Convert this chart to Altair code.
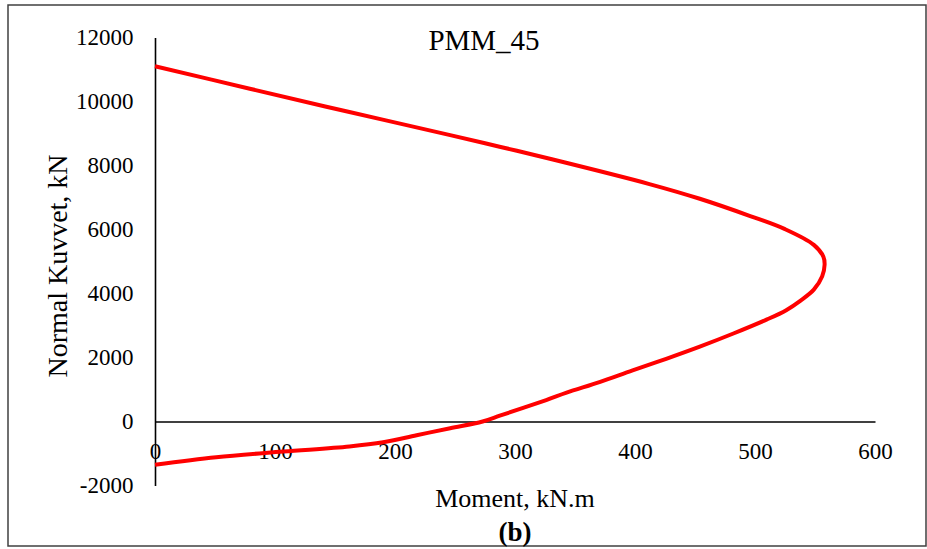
import altair as alt
import pandas as pd

# Interaction curve (PMM, 45 degrees): moment vs. normal force, traced in path order
moment = [0, 79, 162, 246, 288, 329, 412, 454, 496, 525, 549, 557, 558,
          556, 549, 538, 526, 510, 482, 454, 426, 398, 371, 343, 326, 288,
          273, 246, 218, 190, 162, 107, 51, 0]
normal = [11100, 10400, 9670, 8950, 8580, 8210, 7420, 6960, 6420, 6010, 5520, 5150, 4900,
          4540, 4120, 3780, 3480, 3190, 2750, 2340, 1960, 1600, 1240, 900, 670, 190,
          0, -210, -430, -650, -780, -940, -1115, -1350]

x_ticks = [0, 100, 200, 300, 400, 500, 600]
y_ticks = [-2000, 0, 2000, 4000, 6000, 8000, 10000, 12000]

FONT = "Liberation Serif"

df = pd.DataFrame({"M": moment, "P": normal, "idx": list(range(len(moment)))})

W, H = 720, 448

curve = alt.Chart(df).mark_line(
    color="#FF0000", strokeWidth=4, interpolate="catmull-rom"
).encode(
    x=alt.X("M:Q",
            scale=alt.Scale(domain=[0, 600], nice=False, zero=False),
            axis=alt.Axis(values=x_ticks, title=None, grid=False, ticks=False, tickSize=0,
                          offset=-64, labelPadding=37, labelBaseline="alphabetic",
                          labelExpr="'' + datum.value",
                          labelFont=FONT, labelFontSize=23, labelColor="#000000",
                          domainColor="#000000", domainWidth=1.6, labelFlush=False)),
    y=alt.Y("P:Q",
            scale=alt.Scale(domain=[-2000, 12000], nice=False, zero=False),
            axis=alt.Axis(values=y_ticks, title=None, grid=False, ticks=False, tickSize=0,
                          labelPadding=22, labelExpr="'' + datum.value",
                          labelFont=FONT, labelFontSize=23,
                          labelColor="#000000", domainColor="#000000", domainWidth=1.6,
                          labelFlush=False)),
    order="idx:Q",
)

one = alt.Data(values=[{"k": 1}])

border = alt.Chart(one).mark_rect(
    fill=None, stroke="#404040", strokeWidth=1.5
).encode(
    x=alt.value(-147), x2=alt.value(771), y=alt.value(-32.5), y2=alt.value(508.5)
)

title = alt.Chart(one).mark_text(
    text="PMM_45", font=FONT, fontSize=29, color="#000000",
    align="center", baseline="alphabetic"
).encode(x=alt.value(329), y=alt.value(12.5))

x_title = alt.Chart(one).mark_text(
    text="Moment, kN.m", font=FONT, fontSize=26, color="#000000",
    align="center", baseline="alphabetic"
).encode(x=alt.value(360), y=alt.value(469.5))

sub = alt.Chart(one).mark_text(
    text="(b)", font=FONT, fontSize=27, fontWeight="bold", color="#000000",
    align="center", baseline="alphabetic"
).encode(x=alt.value(360), y=alt.value(503.5))

y_title = alt.Chart(one).mark_text(
    text="Normal Kuvvet, kN", font=FONT, fontSize=28, color="#000000",
    align="center", baseline="alphabetic", angle=270
).encode(x=alt.value(-88.5), y=alt.value(228.5))

chart = alt.layer(border, curve, title, x_title, sub, y_title).properties(
    width=W, height=H,
    autosize=alt.AutoSizeParams(type="none"),
    padding={"left": 155, "top": 37.5, "right": 52, "bottom": 63.5},
    background="#FFFFFF",
).configure_view(stroke=None)

chart.save("out.html", embed_options={"renderer": "svg", "actions": False})
